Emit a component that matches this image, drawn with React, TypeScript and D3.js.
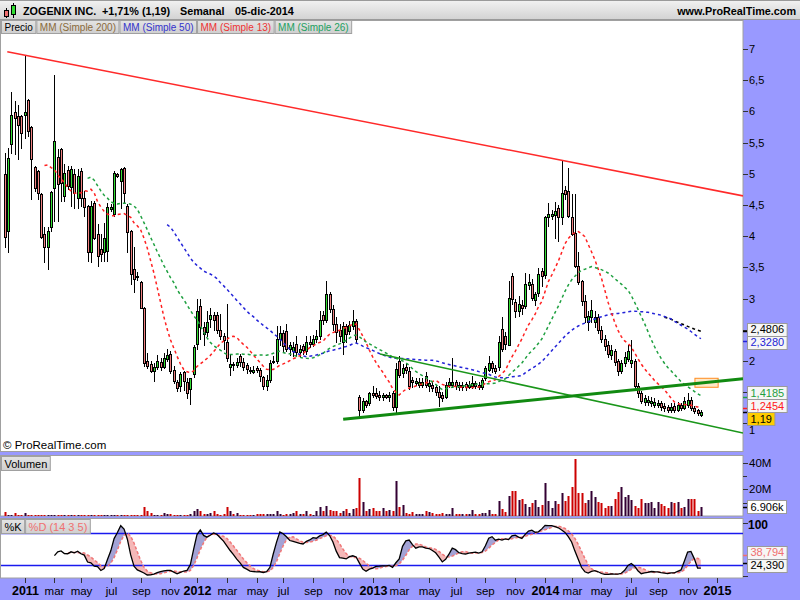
import React from 'react';
import * as d3 from 'd3';

// ---------- DATA (weekly candles, Monday-dated, from 2010-11-22) ----------
const startMonday = [2010, 10, 22];
const opens = [
  4.99, 4.08, 5.47, 5.99, 5.93, 5.93, 5.94, 6.19, 5.75, 5.11,
  5.04, 4.67, 4.04, 3.83, 4.14, 4.77, 5.27, 5.39, 4.64, 5.06,
  4.79, 5.00, 4.62, 5.04, 4.62, 4.48, 3.74, 4.53, 4.03, 3.80,
  3.74, 3.76, 4.44, 4.35, 5.00, 4.89, 5.10, 4.48, 4.08, 3.47,
  3.37, 3.26, 2.85, 2.00, 1.95, 1.84, 1.90, 1.98, 1.90, 2.03,
  2.11, 1.86, 1.66, 1.60, 1.82, 1.66, 1.55, 1.79, 2.28, 2.88,
  2.55, 2.47, 2.68, 2.74, 2.73, 2.50, 2.40, 2.30, 1.90, 1.95,
  1.93, 2.08, 1.98, 1.93, 1.86, 1.83, 1.88, 1.85, 1.74, 1.60,
  1.70, 1.98, 2.00, 2.35, 2.45, 2.48, 2.20, 2.16, 2.28, 2.14,
  2.24, 2.16, 2.30, 2.27, 2.36, 2.40, 2.74, 2.66, 3.08, 2.84,
  2.60, 2.50, 2.30, 2.56, 2.48, 2.56, 2.64, 1.42, 1.22, 1.36,
  1.32, 1.49, 1.48, 1.46, 1.42, 1.45, 1.42, 1.48, 1.26, 2.00,
  1.80, 1.90, 1.84, 1.70, 1.64, 1.62, 1.62, 1.76, 1.60, 1.62,
  1.58, 1.50, 1.46, 1.42, 1.62, 1.62, 1.66, 1.62, 1.58, 1.63,
  1.58, 1.60, 1.64, 1.62, 1.58, 1.72, 1.86, 1.96, 1.88, 1.90,
  2.52, 2.40, 2.26, 3.36, 2.95, 2.80, 2.90, 2.88, 3.22, 3.23,
  2.98, 3.09, 3.44, 3.38, 4.30, 4.32, 4.34, 4.45, 4.31, 4.74,
  4.72, 4.31, 4.05, 3.52, 3.28, 2.96, 2.62, 2.70, 2.62, 2.70,
  2.50, 2.36, 2.26, 2.10, 2.16, 2.00, 1.84, 1.96, 2.04, 1.96,
  2.00, 1.60, 1.48, 1.34, 1.34, 1.32, 1.30, 1.29, 1.33, 1.28,
  1.26, 1.21, 1.28, 1.22, 1.30, 1.25, 1.30, 1.38, 1.25, 1.21,
  1.14,
];
const highs = [
  5.34, 5.42, 6.31, 6.17, 6.11, 5.95, 6.91, 6.20, 5.77, 5.13,
  5.06, 4.70, 4.14, 4.14, 4.73, 6.59, 5.39, 5.42, 5.15, 5.13,
  5.13, 5.07, 5.07, 5.10, 4.72, 4.50, 4.56, 4.56, 4.19, 4.03,
  4.21, 4.53, 4.52, 5.04, 5.02, 5.10, 5.11, 4.52, 4.10, 3.82,
  3.42, 3.28, 2.87, 2.13, 2.00, 1.97, 2.10, 2.05, 2.13, 2.20,
  2.16, 1.92, 1.70, 1.82, 1.84, 1.73, 1.73, 2.25, 3.00, 3.00,
  2.62, 2.80, 2.85, 2.78, 2.78, 2.75, 2.45, 2.92, 2.10, 1.99,
  2.05, 2.12, 2.05, 1.96, 1.90, 1.92, 1.92, 1.88, 1.76, 1.78,
  2.02, 2.08, 2.56, 2.56, 2.50, 2.60, 2.30, 2.30, 2.40, 2.26,
  2.28, 2.40, 2.40, 2.42, 2.50, 2.80, 2.80, 3.28, 3.10, 2.90,
  2.70, 2.60, 2.62, 2.60, 2.64, 2.82, 2.68, 1.45, 1.40, 1.38,
  1.50, 1.60, 1.56, 1.52, 1.48, 1.47, 1.50, 1.52, 1.97, 2.08,
  1.95, 1.96, 1.90, 1.74, 1.72, 1.72, 1.72, 1.82, 1.70, 1.66,
  1.62, 1.60, 1.50, 1.66, 1.72, 2.05, 1.70, 1.66, 1.66, 1.67,
  1.68, 1.76, 1.68, 1.66, 1.72, 1.92, 2.08, 2.00, 1.94, 2.40,
  2.70, 2.46, 3.28, 3.41, 3.00, 3.04, 2.98, 3.41, 3.40, 3.31,
  3.10, 3.49, 3.49, 4.32, 4.53, 4.42, 4.55, 4.50, 5.20, 4.80,
  5.10, 4.68, 4.68, 3.74, 3.30, 3.05, 2.80, 2.98, 2.80, 2.76,
  2.56, 2.42, 2.32, 2.26, 2.20, 2.04, 2.02, 2.14, 2.26, 2.34,
  2.04, 1.64, 1.52, 1.46, 1.44, 1.42, 1.40, 1.38, 1.36, 1.32,
  1.30, 1.32, 1.32, 1.34, 1.33, 1.42, 1.49, 1.42, 1.28, 1.23,
  1.21,
];
const lows = [
  3.82, 3.74, 5.34, 5.31, 5.23, 5.42, 5.58, 5.61, 4.59, 4.72,
  4.59, 3.97, 3.58, 3.48, 4.08, 4.24, 4.24, 4.56, 4.56, 4.75,
  4.48, 4.45, 4.45, 4.48, 4.32, 3.60, 3.58, 3.95, 3.52, 3.60,
  3.60, 3.60, 4.40, 4.33, 4.95, 4.45, 4.54, 3.74, 3.23, 3.10,
  3.30, 2.85, 1.92, 1.88, 1.82, 1.68, 1.87, 1.86, 1.88, 2.00,
  1.80, 1.64, 1.52, 1.52, 1.54, 1.41, 1.31, 1.75, 2.20, 2.35,
  2.25, 2.40, 2.55, 2.50, 2.45, 2.35, 2.20, 2.00, 1.77, 1.85,
  1.90, 1.92, 1.85, 1.80, 1.80, 1.80, 1.82, 1.68, 1.55, 1.54,
  1.67, 1.96, 1.97, 2.25, 2.15, 2.16, 2.10, 2.08, 2.08, 2.08,
  2.12, 2.12, 2.22, 2.24, 2.30, 2.36, 2.60, 2.62, 2.78, 2.50,
  2.30, 2.32, 2.12, 2.30, 2.44, 2.52, 2.30, 1.12, 1.18, 1.26,
  1.30, 1.43, 1.40, 1.38, 1.38, 1.40, 1.36, 1.22, 1.18, 1.74,
  1.75, 1.80, 1.55, 1.58, 1.62, 1.58, 1.58, 1.58, 1.52, 1.52,
  1.46, 1.28, 1.36, 1.40, 1.58, 1.58, 1.55, 1.54, 1.54, 1.54,
  1.56, 1.56, 1.56, 1.55, 1.55, 1.70, 1.84, 1.82, 1.80, 1.86,
  2.16, 2.20, 2.25, 2.92, 2.70, 2.72, 2.75, 2.85, 3.15, 2.98,
  2.90, 3.04, 3.20, 3.33, 4.16, 4.28, 3.97, 3.92, 4.20, 4.60,
  4.30, 4.02, 3.50, 3.24, 2.90, 2.62, 2.50, 2.62, 2.55, 2.45,
  2.30, 2.18, 2.06, 2.04, 1.94, 1.78, 1.80, 1.92, 2.00, 1.90,
  1.56, 1.42, 1.32, 1.30, 1.30, 1.28, 1.27, 1.26, 1.22, 1.20,
  1.18, 1.18, 1.19, 1.20, 1.22, 1.23, 1.27, 1.22, 1.16, 1.13,
  1.12,
];
const closes = [
  3.98, 5.26, 5.94, 5.89, 5.79, 5.66, 5.99, 5.69, 5.23, 4.78,
  4.70, 3.99, 3.83, 4.08, 4.71, 5.53, 4.83, 4.86, 5.02, 4.80,
  5.07, 4.70, 4.96, 4.62, 4.46, 3.74, 4.48, 3.97, 3.68, 3.71,
  3.97, 4.46, 4.47, 5.02, 4.97, 5.07, 4.70, 4.06, 3.39, 3.31,
  3.36, 2.85, 1.97, 1.92, 1.84, 1.90, 2.00, 1.90, 2.05, 2.10,
  1.84, 1.68, 1.57, 1.79, 1.68, 1.49, 1.73, 2.22, 2.80, 2.55,
  2.43, 2.63, 2.73, 2.65, 2.50, 2.40, 2.33, 2.05, 1.95, 1.93,
  1.98, 1.98, 1.90, 1.87, 1.84, 1.86, 1.85, 1.76, 1.60, 1.70,
  1.97, 2.00, 2.35, 2.45, 2.24, 2.20, 2.26, 2.22, 2.14, 2.20,
  2.18, 2.30, 2.28, 2.35, 2.40, 2.66, 2.66, 3.08, 2.84, 2.60,
  2.46, 2.40, 2.56, 2.44, 2.58, 2.64, 2.36, 1.22, 1.36, 1.30,
  1.48, 1.46, 1.44, 1.42, 1.45, 1.42, 1.46, 1.26, 1.87, 1.78,
  1.88, 1.86, 1.60, 1.66, 1.68, 1.66, 1.66, 1.62, 1.64, 1.56,
  1.50, 1.42, 1.40, 1.62, 1.66, 1.66, 1.60, 1.58, 1.62, 1.58,
  1.62, 1.64, 1.60, 1.58, 1.70, 1.88, 1.96, 1.88, 1.84, 2.30,
  2.20, 2.27, 3.01, 2.99, 2.80, 2.92, 2.85, 3.23, 3.27, 3.01,
  3.07, 3.39, 3.36, 4.30, 4.36, 4.35, 4.41, 4.30, 4.69, 4.68,
  4.32, 4.03, 3.52, 3.26, 2.96, 2.70, 2.72, 2.82, 2.70, 2.50,
  2.36, 2.24, 2.12, 2.18, 1.98, 1.84, 1.96, 2.06, 2.16, 2.02,
  1.60, 1.48, 1.36, 1.40, 1.38, 1.36, 1.34, 1.33, 1.26, 1.24,
  1.22, 1.27, 1.22, 1.29, 1.25, 1.36, 1.38, 1.24, 1.20, 1.17,
  1.19,
];
// weekly volume, millions of shares
const volumes = [
  3.2, 1, 1, 2, 0.5, 0.5, 2, 1, 0.5, 1,
  1, 1, 1, 1, 1, 1, 1, 0.4, 0.4, 0.4,
  0.4, 0.4, 0.4, 0.4, 0.4, 1, 1, 0.4, 0.4, 0.4,
  1, 1, 0.4, 1, 0.4, 0.4, 1, 1, 1, 1,
  0.5, 0.5, 7, 4, 2.5, 1, 1, 1, 2, 1.5,
  1.5, 1, 1, 1, 1, 1, 1.2, 4, 5, 4,
  1.5, 1.5, 2.5, 4, 1.5, 1, 1.5, 7, 4, 1.5,
  2.5, 1, 1, 1, 1, 1, 1.2, 1.2, 1.2, 1.2,
  1.2, 1.2, 4, 1.5, 1, 1.5, 1.5, 2.5, 3.5, 1.5,
  1.5, 3.5, 1.5, 1, 4, 7, 4, 7.6, 4.5, 3.5,
  3.5, 2.5, 4, 5, 2, 5, 6, 28.8, 10.8, 3.5,
  5, 6, 3.5, 3.5, 6, 3.5, 4.5, 3.5, 26.3, 7,
  8, 2.4, 1.8, 3, 1.8, 1.8, 1.2, 3.5, 3, 2.4,
  1.2, 1.5, 2.4, 1.2, 1.8, 5.8, 1.2, 1.2, 1.2, 1.2,
  1.2, 4.5, 1.2, 1.5, 2.4, 2.4, 4.5, 1.8, 1.5, 11.3,
  5, 3, 15, 18.8, 18.4, 12, 13, 9, 7, 10,
  12, 7, 8, 25, 11, 6, 11, 9, 17.5, 11,
  15, 22, 43, 17, 17.5, 10, 12, 19, 14.5, 10.5,
  10, 6, 7.5, 7.5, 13, 18, 22, 14, 15.5, 12,
  7.5, 6, 13, 10, 10, 10.5, 6, 10.5, 9, 7.5,
  6, 10.5, 9.5, 10.5, 6, 7, 12.5, 13, 13, 4,
  6.906,
];

// trend lines: [bar index, price]
const redTrend = [[0.78, 6.957], [222.7, 4.646]];
const greenThin = [[113.2, 2.112], [222.7, 0.846]];
const greenThick = [[102.1, 1.066], [222.7, 1.716]];
const zoneBox = [[208.2, 1.723], [215.2, 1.579]];

// price axis labels (2,5 and 1,5 are hidden under the value boxes in the reference)
const priceTicks = [1, 2, 3, 3.5, 4, 4.5, 5, 5.5, 6, 6.5, 7];
const priceTickLabels = ['1', '2', '3', '3,5', '4', '4,5', '5', '5,5', '6', '6,5', '7'];
const priceTickMarks = [1, 1.5, 2, 2.5, 3, 3.5, 4, 4.5, 5, 5.5, 6, 6.5, 7];
const volTicks = [40, 20];
const volTickLabels = ['40M', '20M'];
const volMinorTicks = [30, 10];
const monthNames = ['ene', 'feb', 'mar', 'abr', 'may', 'jun', 'jul', 'ago', 'sep', 'oct', 'nov', 'dic'];

const maPeriods = [200, 50, 13, 26];
const maNames = ['MM (Simple 200)', 'MM (Simple 50)', 'MM (Simple 13)', 'MM (Simple 26)'];
const maLegendColors = ['#8a6a3a', '#3333cc', '#ee3333', '#22a060'];
const maLineColors = ['#000000', '#2424d8', '#ff2020', '#1fa040'];
const maLastLabels = ['2,4806', '2,3280', '1,2454', '1,4185'];
const maLastValues = [2.4806, 2.328, 1.2454, 1.4185];

const title = ['ZOGENIX INC.', '+1,71% (1,19)', 'Semanal', '05-dic-2014'];
const lastPrice = 1.19;
const lastPriceLabel = '1,19';
const lastVolLabel = '6.906k';
const stochLastLabels = ['38,794', '24,390'];
const stochLastValues = [38.794, 24.39];

const FONT = '"Liberation Sans", Arial, Helvetica, sans-serif';

let _ctx: CanvasRenderingContext2D | null = null;
function textW(t: string, font: string): number {
  if (!_ctx) _ctx = document.createElement('canvas').getContext('2d');
  if (!_ctx) return t.length * 6;
  _ctx.font = font;
  return _ctx.measureText(t).width;
}

function sma(arr: (number | null)[], p: number): (number | null)[] {
  return arr.map((_, i) => {
    if (i < p - 1) return null;
    let s = 0;
    for (let j = i - p + 1; j <= i; j++) {
      const v = arr[j];
      if (v == null) return null;
      s += v;
    }
    return s / p;
  });
}

type Box = { y: number; pos: number; text: string; color: string; bg: string; tick: string };
function spread(items: Box[], h: number): Box[] {
  const arr = items.map((d) => ({ ...d, pos: d.y })).sort((a, b) => a.y - b.y);
  for (let k = 0; k < 200; k++) {
    for (let j = 1; j < arr.length; j++) {
      const d = arr[j].pos - arr[j - 1].pos;
      if (d < h) {
        const m = (h - d) / 2;
        arr[j - 1].pos -= m;
        arr[j].pos += m;
      }
    }
  }
  return arr;
}

export default function App() {
  const n = closes.length;
  const AX = 743;
  const x = d3.scaleLinear().domain([0, n - 1]).range([4.7, 700.9]);
  const y = d3.scaleLinear().domain([2, 7]).range([361, 49]);
  const yv = d3.scaleLinear().domain([0, 40]).range([515.9, 462.7]);
  const ys = d3.scaleLinear().domain([0, 100]).range([575.5, 522.7]);

  const start = new Date(startMonday[0], startMonday[1], startMonday[2]);
  const dates = d3.range(0, 223).map((i) => d3.timeMonday.offset(start, i));
  const monthTicks: { i: number; label: string; year: boolean }[] = [];
  for (let i = 1; i < dates.length; i++) {
    const m = dates[i].getMonth();
    if (m !== dates[i - 1].getMonth() && m % 2 === 0 && x(i) < AX - 5) {
      monthTicks.push({ i, label: m === 0 ? String(dates[i].getFullYear()) : monthNames[m], year: m === 0 });
    }
  }

  const mas = maPeriods.map((p) => sma(closes, p));
  const maLine = d3
    .line<number | null>()
    .defined((v) => v != null)
    .x((_, i) => x(i))
    .y((v) => y(v as number));

  // stochastic 14,3,5
  const raw = closes.map((c, i) => {
    if (i < 13) return null;
    const hh = d3.max(highs.slice(i - 13, i + 1)) as number;
    const ll = d3.min(lows.slice(i - 13, i + 1)) as number;
    return hh === ll ? 50 : (100 * (c - ll)) / (hh - ll);
  });
  const kS = sma(raw, 3);
  const dS = sma(kS, 5);
  const kdIdx = d3.range(n).filter((i) => kS[i] != null && dS[i] != null);
  const kIdx = d3.range(n).filter((i) => kS[i] != null);
  const areaKD = d3
    .area<number>()
    .x((i) => x(i))
    .y0((i) => ys(dS[i] as number))
    .y1((i) => ys(kS[i] as number));
  const clipAbove = d3.area<number>().x((i) => x(i)).y0(518).y1((i) => ys(dS[i] as number));
  const clipBelow = d3.area<number>().x((i) => x(i)).y0(580).y1((i) => ys(dS[i] as number));
  const kLine = d3.line<number>().x((i) => x(i)).y((i) => ys(kS[i] as number));
  const dLine = d3.line<number>().x((i) => x(i)).y((i) => ys(dS[i] as number));

  const tl = (pts: number[][]) => ({ x1: x(pts[0][0]), y1: y(pts[0][1]), x2: x(pts[1][0]), y2: y(pts[1][1]) });

  const f11 = `11px ${FONT}`;
  const legendFont = `10px ${FONT}`;
  const legendItems = [{ t: 'Precio', c: '#000' }, ...maNames.map((t, k) => ({ t, c: maLegendColors[k] }))];
  let lx = 1;
  const legend = legendItems.map((it) => {
    const w = textW(it.t, legendFont) + 6;
    const r = { ...it, x: lx, w };
    lx += w + 1;
    return r;
  });

  const mainBoxes = spread(
    [
      ...maLastValues.map((v, k) => ({
        y: y(v),
        pos: 0,
        text: maLastLabels[k],
        color: maLineColors[k] === '#000000' ? '#000' : maLineColors[k],
        bg: '#f6f6f6',
        tick: maLineColors[k],
      })),
      { y: y(lastPrice), pos: 0, text: lastPriceLabel, color: '#000', bg: '#ffcc00', tick: '#000' },
    ],
    13
  );
  const stochBoxes = spread(
    [
      { y: ys(stochLastValues[0]), pos: 0, text: stochLastLabels[0], color: '#f07070', bg: '#f6f6f6', tick: '#f07070' },
      { y: ys(stochLastValues[1]), pos: 0, text: stochLastLabels[1], color: '#000', bg: '#f6f6f6', tick: '#000' },
    ],
    13
  );
  const lowestBoxBottom = d3.max(mainBoxes, (b) => b.pos + 6.5) as number;

  const renderBox = (b: Box, k: number) => {
    const w = textW(b.text, f11) + 6;
    return (
      <g key={k}>
        <line x1={AX} x2={AX + 5} y1={Math.round(b.y) + 0.5} y2={Math.round(b.y) + 0.5} stroke={b.tick} strokeWidth={1.5} />
        <rect x={747.5} y={Math.round(b.pos - 6.5) + 0.5} width={w} height={13} fill={b.bg} stroke="#9a9a9a" />
        <text x={750.5} y={Math.round(b.pos) + 4} fontSize={11} fontFamily={FONT} fill={b.color}>
          {b.text}
        </text>
      </g>
    );
  };

  return (
    <div style={{ position: 'absolute', left: 0, top: 0, width: 800, height: 600 }}>
      <svg width={800} height={600} viewBox="0 0 800 600" style={{ display: 'block' }}>
        <defs>
          <linearGradient id="hdr" x1="0" y1="0" x2="0" y2="1">
            <stop offset="0" stopColor="#f2f2f2" />
            <stop offset="1" stopColor="#d2d2d2" />
          </linearGradient>
          <linearGradient id="lbl" x1="0" y1="0" x2="0" y2="1">
            <stop offset="0" stopColor="#e4e4e4" />
            <stop offset="1" stopColor="#cfcfcf" />
          </linearGradient>
          <clipPath id="mainClip">
            <rect x={1} y={20} width={AX - 1} height={432} />
          </clipPath>
          <clipPath id="volClip">
            <rect x={1} y={455} width={AX - 1} height={61} />
          </clipPath>
          <clipPath id="stAbove">
            <path d={clipAbove(kdIdx) || ''} />
          </clipPath>
          <clipPath id="stBelow">
            <path d={clipBelow(kdIdx) || ''} />
          </clipPath>
          <clipPath id="stClip">
            <rect x={1} y={518.5} width={AX - 1} height={59.5} />
          </clipPath>
        </defs>

        <rect x={0} y={0} width={800} height={600} fill="#9999ff" />

        {/* header */}
        <rect x={0} y={0} width={800} height={20} fill="url(#hdr)" />
        <line x1={0} x2={800} y1={0.5} y2={0.5} stroke="#9a9a9a" />
        <line x1={0} x2={800} y1={19.5} y2={19.5} stroke="#9a9a9a" />
        <g>
          <line x1={6.5} x2={6.5} y1={8} y2={18} stroke="#000" />
          <rect x={4.5} y={10.5} width={4} height={6} fill="#f07070" stroke="#000" />
          <line x1={13.5} x2={13.5} y1={3} y2={18} stroke="#000" />
          <rect x={11.5} y={5.5} width={4} height={9} fill="#33dd33" stroke="#000" />
        </g>
        {title.map((t, k) => (
          <text key={k} x={[23, 102, 180, 235][k]} y={15} fontSize={10.8} fontWeight="bold" fontFamily={FONT} fill="#000">
            {t}
          </text>
        ))}
        <text x={796} y={15} textAnchor="end" fontSize={10.8} fontWeight="bold" fontFamily={FONT} fill="#000">
          www.ProRealTime.com
        </text>

        {/* panels */}
        <rect x={0.5} y={20.5} width={AX - 0.5} height={431} fill="#fff" stroke="#a0a0a0" />
        <rect x={0.5} y={455.5} width={AX - 0.5} height={60.5} fill="#fff" stroke="#a0a0a0" />
        <rect x={0.5} y={518.5} width={AX - 0.5} height={59.5} fill="#fff" stroke="#a0a0a0" />

        {/* ---------- MAIN PRICE PANEL ---------- */}
        <g clipPath="url(#mainClip)">
          <rect
            x={x(zoneBox[0][0])}
            y={y(zoneBox[0][1])}
            width={x(zoneBox[1][0]) - x(zoneBox[0][0])}
            height={y(zoneBox[1][1]) - y(zoneBox[0][1])}
            fill="#fde8c8"
            stroke="#ff8c20"
          />
          {closes.map((c, i) => {
            const cx = Math.round(x(i));
            const o = opens[i];
            const up = c >= o;
            const yTop = Math.round(y(Math.max(o, c)));
            const yBot = Math.round(y(Math.min(o, c)));
            return (
              <g key={i}>
                <line x1={cx + 0.5} x2={cx + 0.5} y1={Math.round(y(highs[i]))} y2={Math.round(y(lows[i])) + 1} stroke="#000" />
                <rect
                  x={cx - 0.5}
                  y={yTop + 0.5}
                  width={2}
                  height={Math.max(1, yBot - yTop)}
                  fill={up ? '#33dd33' : '#f08080'}
                  stroke="#000"
                />
              </g>
            );
          })}
          {mas.map((m, k) => (
            <path key={k} d={maLine(m) || ''} fill="none" stroke={maLineColors[k]} strokeWidth={1.5} strokeDasharray="3,3" />
          ))}
          {[
            { p: greenThin, c: '#1a961a', w: 1.5 },
            { p: greenThick, c: '#118a11', w: 3 },
            { p: redTrend, c: '#ff2a2a', w: 1.5 },
          ].map((t, k) => {
            const l = tl(t.p);
            return <line key={k} {...l} stroke={t.c} strokeWidth={t.w} />;
          })}
        </g>
        <text x={3} y={449} fontSize={11.5} fontFamily={FONT} fill="#000">
          © ProRealTime.com
        </text>

        {/* legend */}
        {legend.map((it, k) => (
          <g key={k}>
            <rect x={it.x + 0.5} y={20.5} width={it.w} height={13} fill="url(#lbl)" stroke="#a0a0a0" />
            <text x={it.x + 3.5} y={31} fontSize={10} fontFamily={FONT} fill={it.c}>
              {it.t}
            </text>
          </g>
        ))}

        {/* main axis */}
        {priceTickMarks.map((p, k) => (
          <line key={k} x1={AX} x2={AX + 5} y1={Math.round(y(p)) + 0.5} y2={Math.round(y(p)) + 0.5} stroke="#333" />
        ))}
        {priceTicks.map((p, k) => {
          let ty = y(p) + 4;
          if (Math.abs(y(p) - lowestBoxBottom) < 9 && y(p) > lowestBoxBottom - 9) ty = Math.max(ty, lowestBoxBottom + 9);
          return (
            <text key={k} x={749} y={ty} fontSize={11} fontFamily={FONT} fill="#000">
              {priceTickLabels[k]}
            </text>
          );
        })}
        {mainBoxes.map(renderBox)}

        {/* ---------- VOLUME PANEL ---------- */}
        <g clipPath="url(#volClip)">
          {volumes.map((v, i) => {
            const cx = Math.round(x(i));
            const top = Math.min(Math.round(yv(v)), 515);
            return <rect key={i} x={cx - 0.5} y={top} width={2} height={516 - top} fill={closes[i] >= opens[i] ? '#330033' : '#cc0000'} />;
          })}
        </g>
        <rect x={1.5} y={456.5} width={textW('Volumen', f11) + 6} height={14} fill="url(#lbl)" stroke="#a0a0a0" />
        <text x={4.5} y={467.5} fontSize={11} fontFamily={FONT} fill="#000">
          Volumen
        </text>
        {volTicks.map((v, k) => (
          <g key={k}>
            <line x1={AX} x2={AX + 5} y1={Math.round(yv(v)) + 0.5} y2={Math.round(yv(v)) + 0.5} stroke="#333" />
            <text x={749} y={yv(v) + 4} fontSize={11.5} fontFamily={FONT} fill="#000">
              {volTickLabels[k]}
            </text>
          </g>
        ))}
        {volMinorTicks.map((v, k) => (
          <line key={k} x1={AX} x2={AX + 4} y1={Math.round(yv(v)) + 0.5} y2={Math.round(yv(v)) + 0.5} stroke="#333" />
        ))}
        {renderBox({ y: yv(volumes[n - 1]), pos: yv(volumes[n - 1]), text: lastVolLabel, color: '#000', bg: '#fff', tick: '#000' }, 0)}

        {/* ---------- STOCHASTIC PANEL ---------- */}
        <g clipPath="url(#stClip)">
          <g clipPath="url(#stAbove)">
            <path d={areaKD(kdIdx) || ''} fill="#a3a3d6" />
          </g>
          <g clipPath="url(#stBelow)">
            <path d={areaKD(kdIdx) || ''} fill="#f5b8b8" />
          </g>
          <line x1={0} x2={AX} y1={Math.round(ys(80)) + 0.5} y2={Math.round(ys(80)) + 0.5} stroke="#1a1aee" strokeWidth={1.5} />
          <line x1={0} x2={AX} y1={Math.round(ys(20)) + 0.5} y2={Math.round(ys(20)) + 0.5} stroke="#1a1aee" strokeWidth={1.5} />
          <path d={dLine(kdIdx) || ''} fill="none" stroke="#f07878" strokeWidth={1.5} strokeDasharray="3,2" />
          <path d={kLine(kIdx) || ''} fill="none" stroke="#000" strokeWidth={1.3} />
        </g>
        {(() => {
          const w1 = textW('%K', f11) + 6;
          const w2 = textW('%D (14 3 5)', f11) + 6;
          return (
            <g>
              <rect x={1.5} y={519.5} width={w1} height={14} fill="url(#lbl)" stroke="#a0a0a0" />
              <text x={4.5} y={530.5} fontSize={11} fontFamily={FONT} fill="#000">
                %K
              </text>
              <rect x={2.5 + w1} y={519.5} width={w2} height={14} fill="url(#lbl)" stroke="#a0a0a0" />
              <text x={5.5 + w1} y={530.5} fontSize={11} fontFamily={FONT} fill="#f07070">
                %D (14 3 5)
              </text>
            </g>
          );
        })()}
        <line x1={AX} x2={AX + 5} y1={Math.round(ys(100)) + 0.5} y2={Math.round(ys(100)) + 0.5} stroke="#333" />
        <text x={748} y={ys(100) + 6} fontSize={12} fontWeight="bold" fontFamily={FONT} fill="#000">
          100
        </text>
        <line x1={AX} x2={AX + 5} y1={Math.round(ys(0)) + 0.5} y2={Math.round(ys(0)) + 0.5} stroke="#333" />
        {stochBoxes.map(renderBox)}

        {/* ---------- X AXIS ---------- */}
        {monthTicks.map((t, k) => {
          const tx = Math.round(x(t.i)) + 0.5;
          return (
            <g key={k}>
              <line x1={tx} x2={tx} y1={578} y2={583} stroke="#333" />
              <text
                x={tx}
                y={595}
                textAnchor="middle"
                fontSize={t.year ? 12.5 : 11.5}
                fontWeight={t.year ? 'bold' : 'normal'}
                fontFamily={FONT}
                fill="#000"
              >
                {t.label}
              </text>
            </g>
          );
        })}
      </svg>
    </div>
  );
}
